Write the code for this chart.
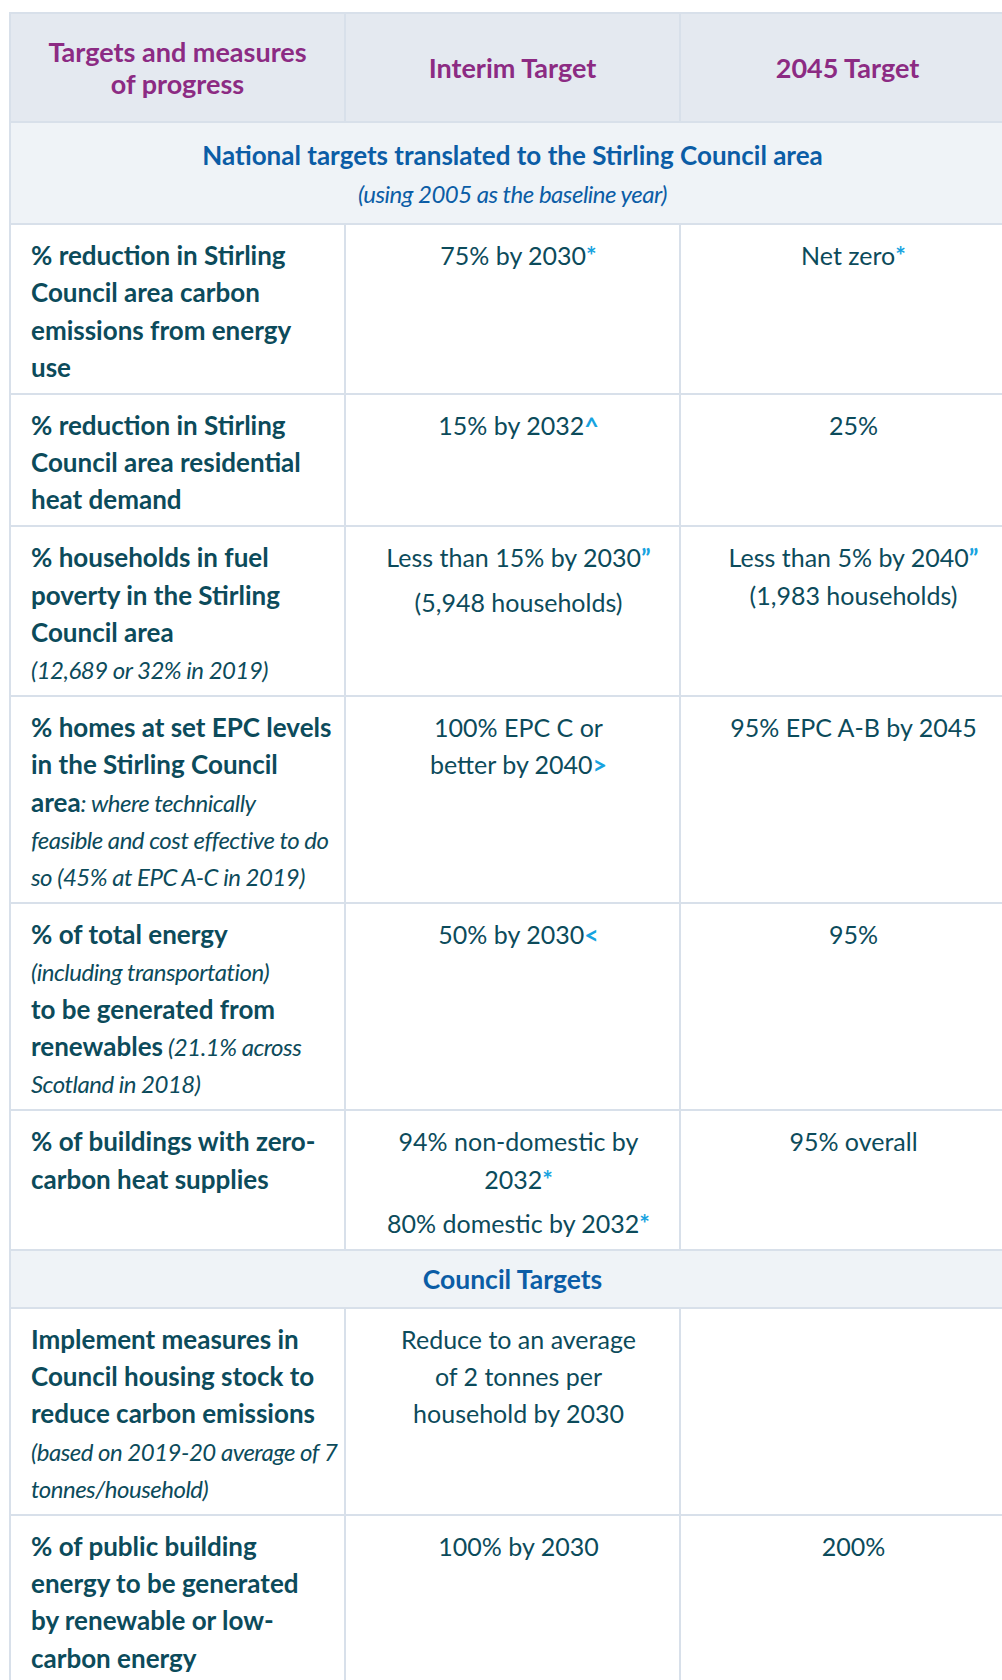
import React from 'react';

// Column headings
const headings = ['Targets and measures\nof progress', 'Interim Target', '2045 Target'];

// Section banners
const nationalTitle = 'National targets translated to the Stirling Council area';
const nationalSubtitle = '(using 2005 as the baseline year)';
const councilTitle = 'Council Targets';

// First column: default bold, {..} = italic, [..] = footnote marker, blank line = paragraph gap
const measures = [
  '% reduction in Stirling\nCouncil area carbon\nemissions from energy\nuse',
  '% reduction in Stirling\nCouncil area residential\nheat demand',
  '% households in fuel\npoverty in the Stirling\nCouncil area\n{(12,689 or 32% in 2019)}',
  '% homes at set EPC levels\nin the Stirling Council\narea{: where technically}\n{feasible and cost effective to do}\n{so (45% at EPC A-C in 2019)}',
  '% of total energy\n{(including transportation)}\nto be generated from\nrenewables{ (21.1% across}\n{Scotland in 2018)}',
  '% of buildings with zero-\ncarbon heat supplies',
  'Implement measures in\nCouncil housing stock to\nreduce carbon emissions\n{(based on 2019-20 average of 7}\n{tonnes/household)}',
  '% of public building\nenergy to be generated\nby renewable or low-\ncarbon energy',
];

const interimTargets = [
  '75% by 2030[*]',
  '15% by 2032[^]',
  'Less than 15% by 2030[\u201d]\n\n(5,948 households)',
  '100% EPC C or\nbetter by 2040[>]',
  '50% by 2030[<]',
  '94% non-domestic by\n2032[*]\n\n80% domestic by 2032[*]',
  'Reduce to an average\nof 2 tonnes per\nhousehold by 2030',
  '100% by 2030',
];

const finalTargets = [
  'Net zero[*]',
  '25%',
  'Less than 5% by 2040[\u201d]\n(1,983 households)',
  '95% EPC A-B by 2045',
  '95%',
  '95% overall',
  '',
  '200%',
];

// index of the first council row
const councilStart = 6;

const TEXT = '#0c4b5b';
const PURPLE = '#8c2b83';
const BLUE = '#0b5da6';
const MARK = '#17a3e0';
const BORDER = '#d8e0ea';
const FONT = 'Lato, "Open Sans", sans-serif';
const LINE = 37.3;

const italicStyle: React.CSSProperties = {
  fontStyle: 'italic',
  fontWeight: 400,
  fontSize: 24,
  letterSpacing: '-0.5px',
};

// split a line into plain / italic / marker pieces
const renderLine = (line: string, baseWeight: number) => {
  const parts: React.ReactNode[] = [];
  const re = /\{([^}]*)\}|\[([^\]]*)\]/g;
  let last = 0;
  let m: RegExpExecArray | null;
  let k = 0;
  while ((m = re.exec(line))) {
    if (m.index > last) {
      parts.push(<span key={k++} style={{ fontWeight: baseWeight }}>{line.slice(last, m.index)}</span>);
    }
    if (m[1] !== undefined) {
      parts.push(<span key={k++} style={italicStyle}>{m[1]}</span>);
    } else {
      parts.push(<span key={k++} style={{ color: MARK, fontWeight: 700 }}>{m[2]}</span>);
    }
    last = re.lastIndex;
  }
  if (last < line.length) {
    parts.push(<span key={k++} style={{ fontWeight: baseWeight }}>{line.slice(last)}</span>);
  }
  return parts;
};

const CellText = ({ text, weight }: { text: string; weight: number }) => {
  const paras = text.split('\n\n');
  return (
    <>
      {paras.map((p, i) => (
        <div key={i} style={{ marginTop: i > 0 ? 7.5 : 0 }}>
          {p.split('\n').map((ln, j) => (
            <div key={j} style={{ whiteSpace: 'nowrap', height: LINE, overflow: 'visible' }}>
              {renderLine(ln, weight)}
            </div>
          ))}
        </div>
      ))}
    </>
  );
};

const cellBase: React.CSSProperties = {
  border: `2px solid ${BORDER}`,
  verticalAlign: 'top',
  padding: '12px 8px 6.6px 20px',
  color: TEXT,
  fontSize: 25,
  lineHeight: `${LINE}px`,
};

const headCell: React.CSSProperties = {
  border: `2px solid ${BORDER}`,
  background: '#e4e9f0',
  color: PURPLE,
  fontWeight: 700,
  fontSize: 27,
  lineHeight: '32px',
  textAlign: 'center',
  verticalAlign: 'middle',
  height: 107,
  padding: 0,
};

const bannerCell: React.CSSProperties = {
  border: `2px solid ${BORDER}`,
  background: '#eff3f7',
  color: BLUE,
  textAlign: 'center',
  fontSize: 26.5,
  lineHeight: '37.5px',
};

const BodyRow = ({ i }: { i: number }) => (
  <tr>
    <td style={{ ...cellBase, fontSize: 26 }}>
      <CellText text={measures[i]} weight={700} />
    </td>
    <td style={{ ...cellBase, textAlign: 'center' }}>
      <CellText text={interimTargets[i]} weight={400} />
    </td>
    <td style={{ ...cellBase, textAlign: 'center' }}>
      <CellText text={finalTargets[i]} weight={400} />
    </td>
  </tr>
);

export default function App() {
  const national = measures.slice(0, councilStart).map((_, i) => i);
  const council = measures.slice(councilStart).map((_, i) => i + councilStart);

  return (
    <div
      style={{
        position: 'fixed',
        left: 9,
        top: 12,
        width: 993,
        height: 1668,
        overflow: 'hidden',
        background: '#fff',
        fontFamily: FONT,
      }}
    >
      <table style={{ borderCollapse: 'collapse', width: 1005, tableLayout: 'fixed' }}>
        <colgroup>
          <col style={{ width: 335 }} />
          <col style={{ width: 335 }} />
          <col style={{ width: 335 }} />
        </colgroup>
        <tbody>
          <tr>
            {headings.map((h, i) => (
              <td key={i} style={headCell}>
                {h.split('\n').map((ln, j) => (
                  <div key={j}>{ln}</div>
                ))}
              </td>
            ))}
          </tr>
          <tr>
            <td colSpan={3} style={{ ...bannerCell, padding: '14px 0 11px' }}>
              <div style={{ fontWeight: 700, fontSize: 26 }}>{nationalTitle}</div>
              <div style={{ ...italicStyle, color: BLUE }}>{nationalSubtitle}</div>
            </td>
          </tr>
          {national.map((i) => (
            <BodyRow key={i} i={i} />
          ))}
          <tr>
            <td colSpan={3} style={{ ...bannerCell, padding: '10px 0 8px', fontWeight: 700 }}>
              {councilTitle}
            </td>
          </tr>
          {council.map((i) => (
            <BodyRow key={i} i={i} />
          ))}
        </tbody>
      </table>
    </div>
  );
}
